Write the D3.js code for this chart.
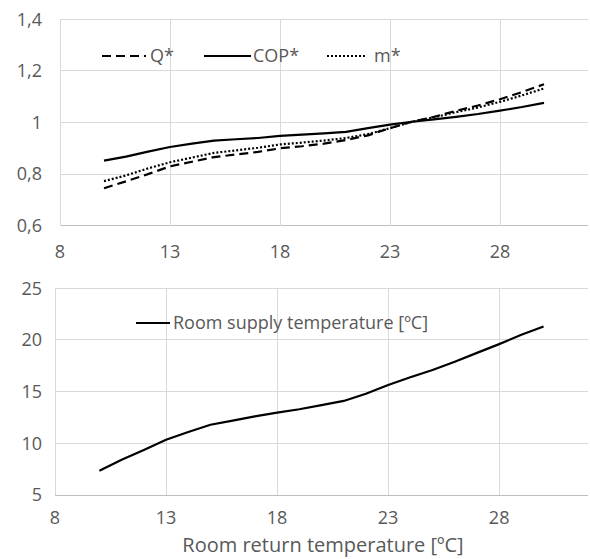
<!DOCTYPE html>
<html><head><meta charset="utf-8">
<script src="https://cdn.jsdelivr.net/npm/d3@7"></script>
<style>
body{margin:0;background:#fff;}
svg{display:block;}
text{font-family:"Open Sans",sans-serif;fill:#595959;}
</style></head>
<body><svg id="c" width="590" height="559"></svg>
<script>
const xVals = [10,11,12,13,14,15,16,17,18,19,20,21,22,23,24,25,26,27,28,29,30];
const qStar = [0.745,0.772,0.800,0.830,0.848,0.866,0.876,0.886,0.900,0.908,0.918,0.932,0.950,0.978,1.003,1.022,1.045,1.066,1.090,1.118,1.148];
const copStar = [0.852,0.868,0.887,0.905,0.918,0.930,0.935,0.940,0.948,0.953,0.958,0.964,0.978,0.992,1.003,1.012,1.022,1.033,1.046,1.060,1.076];
const mStar = [0.773,0.795,0.822,0.846,0.864,0.882,0.892,0.902,0.915,0.922,0.930,0.940,0.955,0.978,1.003,1.020,1.040,1.058,1.080,1.105,1.132];
const supplyTemp = [7.35,8.4,9.35,10.35,11.1,11.8,12.2,12.6,12.97,13.3,13.7,14.1,14.8,15.65,16.4,17.1,17.9,18.75,19.6,20.5,21.3];
const xTicks = [8,13,18,23,28];
const yTicksTop = [0.6,0.8,1.0,1.2,1.4];
const yTicksBottom = [5,10,15,20,25];
const seriesTop = [
  {name:"Q*", values:qStar, dash:"9,5"},
  {name:"COP*", values:copStar, dash:null},
  {name:"m*", values:mStar, dash:"2,2"}
];
const xTitle = "Room return temperature [ºC]";
const bottomLegend = "Room supply temperature [ºC]";

const svg = d3.select("#c");
const fmt = v => d3.format("~g")(+v.toFixed(2)).replace(".", ",");

function panel(x, y, yTicks, yFmt, xLabelY){
  const g = svg.append("g");
  g.selectAll(".hg").data(yTicks).join("line")
    .attr("x1", x.range()[0]).attr("x2", x.range()[1])
    .attr("y1", d=>y(d)).attr("y2", d=>y(d))
    .attr("stroke", (d,i)=> i===0 ? "#bfbfbf" : "#d9d9d9").attr("stroke-width",1)
    .attr("shape-rendering","crispEdges");
  g.selectAll(".vg").data(xTicks).join("line")
    .attr("x1", d=>x(d)).attr("x2", d=>x(d))
    .attr("y1", y.range()[0]).attr("y2", y.range()[1])
    .attr("stroke","#d9d9d9").attr("stroke-width",1)
    .attr("shape-rendering","crispEdges");
  g.selectAll(".yl").data(yTicks).join("text")
    .attr("x", 42).attr("y", d=>y(d)).attr("dy","0.35em")
    .attr("text-anchor","end").attr("font-size",18).text(yFmt);
  g.selectAll(".xl").data(xTicks).join("text")
    .attr("x", d=>x(d)).attr("y", xLabelY).attr("dy","0.35em")
    .attr("text-anchor","middle").attr("font-size",18).text(d=>d);
  return g;
}

// top chart
const xT = d3.scaleLinear().domain([8,32]).range([60,588]);
const yT = d3.scaleLinear().domain([0.6,1.4]).range([225.7,19.3]);
const gT = panel(xT, yT, yTicksTop, fmt, 252);
seriesTop.forEach(s=>{
  const line = d3.line().x((d,i)=>xT(xVals[i])).y(d=>yT(d));
  gT.append("path").datum(s.values).attr("d", line)
    .attr("fill","none").attr("stroke","#000").attr("stroke-width",2.2)
    .attr("stroke-dasharray", s.dash);
});
const legPos = [{x1:102,x2:146,tx:150},{x1:204,x2:251,tx:253},{x1:327,x2:367,tx:374}];
seriesTop.forEach((s,i)=>{
  const p = legPos[i];
  gT.append("line").attr("x1",p.x1).attr("x2",p.x2).attr("y1",56).attr("y2",56)
    .attr("stroke","#000").attr("stroke-width",2.2).attr("stroke-dasharray", s.dash);
  gT.append("text").attr("x",p.tx).attr("y",56).attr("dy","0.35em")
    .attr("font-size",18).text(s.name);
});

// bottom chart
const xB = d3.scaleLinear().domain([8,32]).range([55,588]);
const yB = d3.scaleLinear().domain([5,25]).range([495,288.3]);
const gB = panel(xB, yB, yTicksBottom, d=>d, 518);
gB.append("path").datum(supplyTemp)
  .attr("d", d3.line().x((d,i)=>xB(xVals[i])).y(d=>yB(d)))
  .attr("fill","none").attr("stroke","#000").attr("stroke-width",2.2);
gB.append("line").attr("x1",136).attr("x2",170).attr("y1",323).attr("y2",323)
  .attr("stroke","#000").attr("stroke-width",2.2);
gB.append("text").attr("x",173).attr("y",323).attr("dy","0.35em")
  .attr("font-size",18).text(bottomLegend);
svg.append("text").attr("x",323).attr("y",545).attr("dy","0.35em")
  .attr("text-anchor","middle").attr("font-size",20).text(xTitle);
</script></body></html>
